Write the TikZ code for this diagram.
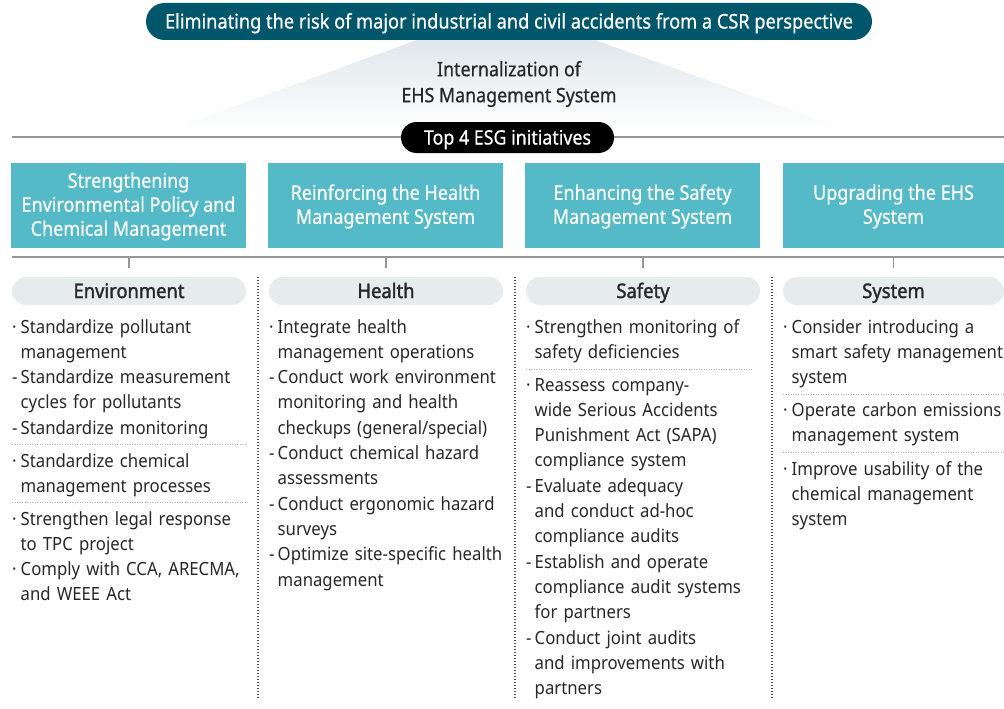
\documentclass[tikz,border=0pt]{standalone}
\usepackage{fontspec}
\setmainfont{Noto Sans}[FakeStretch=0.92]
\newfontfamily\midfont{Noto Sans}[FakeStretch=0.9, FakeBold=0.6]
\newfontfamily\headfont{Noto Sans}[FakeStretch=0.92, FakeBold=1.6]
\usepackage{xcolor}
\usepackage{tikz}
\usetikzlibrary{positioning}
\definecolor{bannerteal}{RGB}{0,86,106}
\definecolor{boxteal}{RGB}{84,186,199}
\definecolor{pillgray}{RGB}{230,235,238}
\definecolor{rulegray}{RGB}{150,150,150}
\definecolor{inkdark}{RGB}{40,40,40}
\definecolor{fadeblue}{RGB}{212,222,229}
\newlength\markw
\setlength\markw{8.5pt}
\newcommand\itm[2]{{\let\\\newline\noindent\hangindent=\markw\hangafter=1\makebox[\markw][l]{#1}#2\par}}
\tikzset{
  banner/.style={fill=bannerteal, text=white, rounded corners=18.5pt,
                 minimum width=726pt, minimum height=37pt, inner sep=0pt,
                 text height=16pt, text depth=2pt,
                 font=\fontsize{20.2}{22}\midfont},
  toppill/.style={fill=black, text=white, rounded corners=15.5pt,
                  minimum width=213pt, minimum height=31pt, inner sep=0pt,
                  text height=16pt, text depth=2pt,
                  font=\fontsize{19.8}{22}\midfont},
  midtext/.style={align=center, text=inkdark, inner sep=0pt,
                  font=\fontsize{19.8}{26}\midfont},
  initbox/.style={fill=boxteal, text=white, align=center, inner sep=0pt,
                  minimum width=235pt, minimum height=83pt,
                  font=\fontsize{20}{24}\midfont},
  areapill/.style={fill=pillgray, text=inkdark, rounded corners=14pt,
                   minimum width=234pt, minimum height=28pt, inner sep=0pt,
                   text height=16pt, text depth=2pt,
                   font=\fontsize{20}{22}\headfont},
  items/.style={anchor=base west, text width=260pt, inner sep=0pt, text=inkdark,
                font=\fontsize{18.2}{25.3}\selectfont},
  rule/.style={draw=rulegray, line width=1.3pt},
  colsep/.style={draw=black!70, line width=1.2pt, dash pattern=on 1.2pt off 1.8pt},
  rowsep/.style={draw=black!30, line width=1pt, dash pattern=on 1pt off 1.5pt},
}
\begin{document}
\begin{tikzpicture}[x=1pt, y=-1pt]
    \useasboundingbox[fill=white] (0,0) rectangle (1004,709);
    \shade[top color=fadeblue, bottom color=white] (505,8) -- (850,131) -- (167,131) -- cycle;
    \node[banner] (goal) at (509,21.5) {Eliminating the risk of major industrial and civil accidents from a CSR perspective};
    \node[midtext] (intern) at (509,84) {Internalization of\\EHS Management System};

    \draw[rule] (12,137) -- (1004,137);
    \node[toppill] (top4) at (507.5,137.5) {Top 4 ESG initiatives};

    \fill[boxteal] (11,163) rectangle (246,246);
    \node[initbox] (envbox) at (128.5,206.5) {Strengthening\\Environmental Policy and\\Chemical Management};
    \fill[boxteal] (268,163) rectangle (503,246);
    \node[initbox] (hlthbox) at (385.5,206.5) {Reinforcing the Health\\Management System};
    \fill[boxteal] (525,163) rectangle (760,246);
    \node[initbox] (safebox) at (642.5,206.5) {Enhancing the Safety\\Management System};
    \fill[boxteal] (783,163) rectangle (1004,246);
    \node[initbox, minimum width=221pt] (sysbox) at (893.5,206.5) {Upgrading the EHS\\System};

    \draw[rule] (12,257) -- (1004,257);
    \node[areapill] (envhead) at (129,291) {Environment};
    \node[areapill] (hlthhead) at (386,291) {Health};
    \node[areapill] (safehead) at (643,291) {Safety};
    \node[areapill, minimum width=221pt] (syshead) at (893.5,291) {System};
    \foreach \h in {envhead,hlthhead,safehead,syshead}
      \draw[rule] ([yshift=9pt]\h.north) -- ++(0,-11);

    \draw[colsep] (258,277) -- (258,700);
    \draw[colsep] (515,277) -- (515,700);
    \draw[colsep] (772,277) -- (772,700);

    \node[items] (envA) at (12,333) {\itm{·}{Standardize pollutant\\management}
      \itm{-}{Standardize measurement\\cycles for pollutants}
      \itm{-}{Standardize monitoring}};
    \draw[rowsep] (12,444) -- (246,444);
    \node[items] (envB) at (12,467) {\itm{·}{Standardize chemical\\management processes}};
    \draw[rowsep] (12,502) -- (246,502);
    \node[items] (envC) at (12,525) {\itm{·}{Strengthen legal response\\to TPC project}
      \itm{·}{Comply with CCA, ARECMA,\\and WEEE Act}};

    \node[items] (hlthA) at (269,333) {\itm{·}{Integrate health\\management operations}
      \itm{-}{Conduct work environment\\monitoring and health\\checkups (general/special)}
      \itm{-}{Conduct chemical hazard\\assessments}
      \itm{-}{Conduct ergonomic hazard\\surveys}
      \itm{-}{Optimize site-specific health\\management}};

    \node[items] (safeA) at (526,333) {\itm{·}{Strengthen monitoring of\\safety deficiencies}};
    \draw[rowsep] (526,369) -- (752,369);
    \node[items] (safeB) at (526,391) {\itm{·}{Reassess company-\\wide Serious Accidents\\Punishment Act (SAPA)\\compliance system}
      \itm{-}{Evaluate adequacy\\and conduct ad-hoc\\compliance audits}
      \itm{-}{Establish and operate\\compliance audit systems\\for partners}
      \itm{-}{Conduct joint audits\\and improvements with\\partners}};

    \node[items] (sysA) at (783,333) {\itm{·}{Consider introducing a\\smart safety management\\system}};
    \draw[rowsep] (783,394) -- (1004,394);
    \node[items] (sysB) at (783,416) {\itm{·}{Operate carbon emissions\\management system}};
    \draw[rowsep] (783,452) -- (1004,452);
    \node[items] (sysC) at (783,475) {\itm{·}{Improve usability of the\\chemical management\\system}};
\end{tikzpicture}
\end{document}
